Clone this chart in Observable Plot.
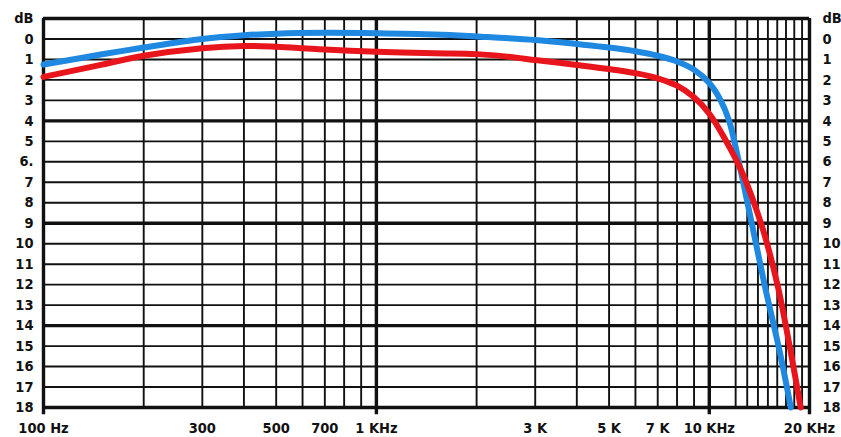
<!DOCTYPE html>
<html>
<head>
<meta charset="utf-8">
<script src="https://cdn.jsdelivr.net/npm/d3@7"></script>
<script src="https://cdn.jsdelivr.net/npm/@observablehq/plot@0.6"></script>
<style>
  html, body { margin: 0; padding: 0; background: #fff; }
  #chart svg { display: block; }
</style>
</head>
<body>
<div id="chart"></div>
<script>
// Frequency response curves (Hz, dB attenuation)
const blueFreq = [100, 150, 200, 300, 400, 500, 700, 1000, 1500, 2000, 3000, 4000, 5000, 6000, 7000, 8000, 9000, 10000, 10780, 11470, 12040, 12720, 13530, 14700, 16290, 17570];
const blueDb   = [1.25, 0.75, 0.42, 0.0, -0.18, -0.26, -0.3, -0.28, -0.22, -0.12, 0.05, 0.25, 0.42, 0.6, 0.82, 1.1, 1.5, 2.15, 2.95, 4.0, 5.4, 7.2, 9.3, 12.1, 15.3, 18];

const redFreq = [100, 150, 200, 300, 400, 500, 600, 700, 1000, 1500, 2000, 2600, 3000, 4000, 5000, 6000, 7000, 8000, 9000, 10000, 11160, 12460, 14490, 16070, 17570, 18820];
const redDb   = [1.85, 1.25, 0.82, 0.45, 0.34, 0.38, 0.45, 0.52, 0.63, 0.7, 0.74, 0.9, 1.03, 1.27, 1.47, 1.67, 1.92, 2.28, 2.85, 3.65, 4.9, 6.4, 9.3, 12.1, 15.3, 18];

// Grid
const minorFreq = [200, 300, 400, 500, 600, 700, 800, 900, 2000, 3000, 4000, 5000, 6000, 7000, 8000, 9000, 12000, 13000, 14000, 15000, 16000, 17000, 18000, 19000];
const majorFreq = [100, 1000, 10000, 20000];
const minorDb = [0, 1, 2, 3, 5, 6, 7, 8, 10, 11, 12, 13, 15, 16, 17];
const majorDb = [-1, 4, 9, 14, 18];

// Tick labels
const dbTickValues = [0, 1, 2, 3, 4, 5, 6, 7, 8, 9, 10, 11, 12, 13, 14, 15, 16, 17, 18];
const dbTickLabels = ["0", "1", "2", "3", "4", "5", "6.", "7", "8", "9", "10", "11", "12", "13", "14", "15", "16", "17", "18"];
const freqTickValues = [100, 300, 500, 700, 1000, 3000, 5000, 7000, 10000, 20000];
const freqTickLabels = ["100 Hz", "300", "500", "700", "1 KHz", "3 K", "5 K", "7 K", "10 KHz", "20 KHz"];

const blue = blueFreq.map((f, i) => ({f, db: blueDb[i]}));
const red = redFreq.map((f, i) => ({f, db: redDb[i]}));
const dbLabels = dbTickValues.map((v, i) => ({v, t: dbTickLabels[i]}));
const fLabels = freqTickValues.map((v, i) => ({v, t: freqTickLabels[i]}));

const FONT = "'DejaVu Sans Condensed', 'DejaVu Sans', sans-serif";
const INK = "#111";
const FS = 14.5;

const chart = Plot.plot({
  width: 841,
  height: 437,
  marginLeft: 43,
  marginRight: 32,
  marginTop: 18,
  marginBottom: 30,
  style: {background: "#fff", fontFamily: FONT, fontStretch: "condensed"},
  x: {type: "log", domain: [100, 20000], axis: null},
  y: {domain: [-1, 18], reverse: true, axis: null},
  marks: [
    Plot.ruleX(minorFreq, {x: d => d, y1: -1, y2: 18, stroke: INK, strokeWidth: 1.9}),
    Plot.ruleY(minorDb, {y: d => d, x1: 100, x2: 20000, stroke: INK, strokeWidth: 1.9}),
    Plot.ruleY(majorDb, {y: d => d, x1: 100, x2: 20000, stroke: INK, strokeWidth: 3.4}),
    Plot.ruleX(majorFreq, {x: d => d, y1: -1, y2: 18.35, stroke: INK, strokeWidth: 3.4}),
    Plot.line(blue, {x: "f", y: "db", stroke: "#1f88e0", strokeWidth: 6, curve: "catmull-rom"}),
    Plot.line(red, {x: "f", y: "db", stroke: "#e8161c", strokeWidth: 6, curve: "catmull-rom"}),
    // left y labels
    Plot.text(dbLabels, {x: 100, y: "v", text: "t", dx: -10, textAnchor: "end", fontSize: FS, fontWeight: "bold", fill: INK}),
    Plot.text(["dB"], {x: 100, y: -1, text: d => d, dx: -10, textAnchor: "end", fontSize: FS, fontWeight: "bold", fill: INK}),
    // right y labels
    Plot.text(dbLabels.map(d => ({v: d.v, t: d.t.replace(".", "")})), {x: 20000, y: "v", text: "t", dx: 13, textAnchor: "start", fontSize: FS, fontWeight: "bold", fill: INK}),
    Plot.text(["dB"], {x: 20000, y: -1, text: d => d, dx: 13, textAnchor: "start", fontSize: FS, fontWeight: "bold", fill: INK}),
    // x labels
    Plot.text(fLabels, {x: "v", y: 18, text: "t", dy: 21, textAnchor: "middle", fontSize: FS, fontWeight: "bold", fill: INK})
  ]
});

document.getElementById("chart").appendChild(chart);
</script>
</body>
</html>
